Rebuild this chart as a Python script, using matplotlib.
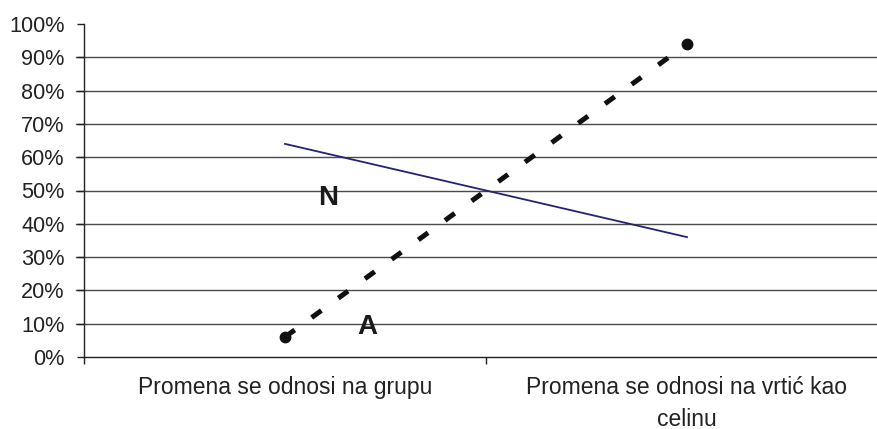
import matplotlib
matplotlib.use("Agg")
import matplotlib.pyplot as plt
from matplotlib.ticker import FuncFormatter

categories = ["Promena se odnosi na grupu", "Promena se odnosi na vrtić kao\ncelinu"]
series_N = [64, 36]
series_A = [6, 94]
y_ticks = list(range(0, 101, 10))

plt.rcParams['font.family'] = ['Liberation Sans', 'DejaVu Sans']

W, H = 877, 429
fig = plt.figure(figsize=(W / 100, H / 100), dpi=100)
ax = fig.add_axes([84 / W, 72 / H, 804 / W, 333 / H])

xpos = [0.5, 1.5]

for y in y_ticks[1:-1]:
    ax.plot([-0.02, 2.2], [y, y], color='#4a4a4a', lw=1.0, clip_on=False, zorder=1)

ax.plot(xpos, series_N, color='#23236f', lw=1.3, zorder=3)
lineA, = ax.plot(xpos, series_A, color='#111111', lw=3.6, marker='o', markersize=7.5,
                 dash_capstyle='butt', zorder=4)
lineA.set_dashes((2.4, 4.2))

ax.text(0.607, 47.6, "N", fontsize=20, fontweight='bold', ha='center', va='center', color='#1a1a1a')
ax.text(0.706, 9.0, "A", fontsize=20, fontweight='bold', ha='center', va='center', color='#1a1a1a')

ax.set_xlim(0, 2)
ax.set_ylim(0, 100)
ax.set_yticks(y_ticks)
ax.yaxis.set_major_formatter(FuncFormatter(lambda v, p: f"{int(v)}%"))
ax.set_xticks([0, 1, 2])
ax.set_xticklabels([])
ax.set_xticks(xpos, minor=True)
ax.set_xticklabels(categories, minor=True, fontsize=16.5, color='#222222', linespacing=1.45)
ax.tick_params(axis='x', which='minor', length=0, pad=14)
ax.tick_params(axis='x', which='major', length=5, width=1, direction='out', color='#222222')
ax.tick_params(axis='y', length=5, width=1, direction='out', color='#222222',
               labelsize=15.6, labelcolor='#222222', pad=9)

for s in ['top', 'right']:
    ax.spines[s].set_visible(False)
ax.spines['left'].set_color('#222222')
ax.spines['bottom'].set_color('#222222')
ax.spines['left'].set_linewidth(1.0)
ax.spines['bottom'].set_linewidth(1.0)

fig.savefig("out.png", dpi=100)
